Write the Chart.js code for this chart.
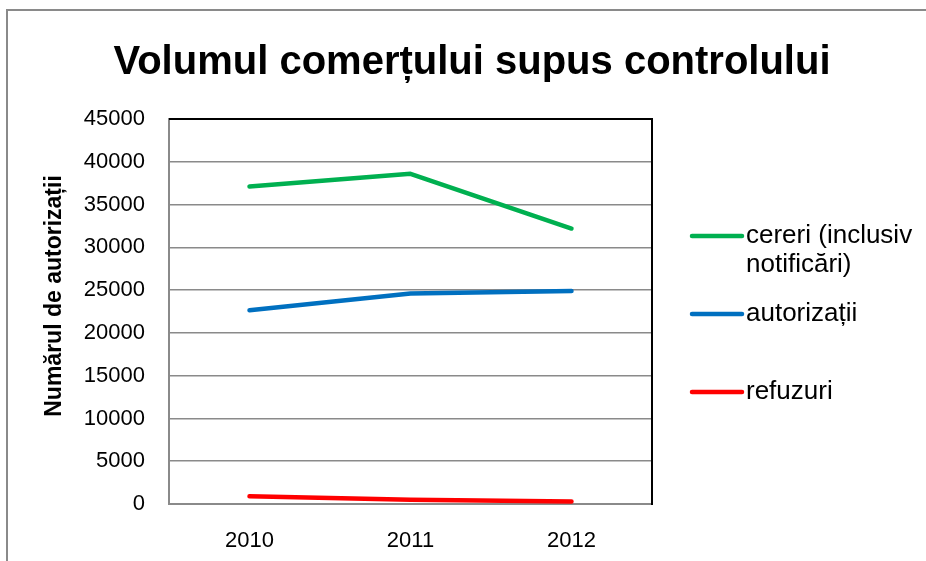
<!DOCTYPE html>
<html>
<head>
<meta charset="utf-8">
<script src="https://cdn.jsdelivr.net/npm/chart.js@4"></script>
<style>
  html, body { margin: 0; padding: 0; background: #fff; }
  #wrap { width: 926px; height: 561px; position: relative; }
</style>
</head>
<body>
<div id="wrap"><canvas id="c" width="926" height="561"></canvas></div>
<script>
const titleText = "Volumul comerțului supus controlului";
const yAxisTitle = "Numărul de autorizații";
const categories = ["2010", "2011", "2012"];
const cereri = [37100, 38600, 32200];
const autorizatii = [22650, 24600, 24900];
const refuzuri = [900, 500, 300];
const legendLines = [["cereri (inclusiv", "notificări)"], ["autorizații"], ["refuzuri"]];
const seriesColors = ["#00B050", "#0070C0", "#FF0000"];
const yMin = 0, yMax = 45000, yStep = 5000;

const FONT = "'Liberation Sans', Arial, sans-serif";

const framePlugin = {
  id: 'frame',
  beforeDraw(chart) {
    const ctx = chart.ctx;
    ctx.save();
    ctx.fillStyle = '#fff';
    ctx.fillRect(0, 0, chart.width, chart.height);
    ctx.strokeStyle = '#8a8a8a';
    ctx.lineWidth = 2;
    ctx.strokeRect(7, 10, 1200, 1200);
    ctx.restore();
  },
  afterDraw(chart) {
    const ctx = chart.ctx;
    const a = chart.chartArea;
    ctx.save();
    // top and right plot border
    ctx.strokeStyle = '#000';
    ctx.lineWidth = 2;
    ctx.beginPath();
    ctx.moveTo(a.left, a.top);
    ctx.lineTo(a.right, a.top);
    ctx.lineTo(a.right, a.bottom + 1);
    ctx.stroke();
    // chart title
    ctx.fillStyle = '#000';
    ctx.font = "bold 40px " + FONT;
    ctx.textAlign = 'center';
    ctx.textBaseline = 'alphabetic';
    ctx.fillText(titleText, 472, 74);
    // y axis title
    ctx.font = "bold 23px " + FONT;
    ctx.textBaseline = 'middle';
    ctx.translate(55, 296);
    ctx.rotate(-Math.PI / 2);
    ctx.fillText(yAxisTitle, 0, 0);
    ctx.restore();
    // legend
    const ys = [236, 314, 392];
    ctx.save();
    ctx.font = "26px " + FONT;
    ctx.textAlign = 'left';
    ctx.textBaseline = 'middle';
    chart.data.datasets.forEach((ds, i) => {
      const y = ys[i];
      ctx.strokeStyle = ds.borderColor;
      ctx.lineWidth = 4.5;
      ctx.lineCap = 'round';
      ctx.beginPath();
      ctx.moveTo(692, y);
      ctx.lineTo(742, y);
      ctx.stroke();
      ctx.fillStyle = '#000';
      legendLines[i].forEach((t, j) => ctx.fillText(t, 746, y + j * 29));
    });
    ctx.restore();
  }
};

const mk = (label, data, color) => ({
  label, data,
  borderColor: color,
  backgroundColor: color,
  borderWidth: 4.5,
  borderCapStyle: 'round',
  borderJoinStyle: 'round',
  pointRadius: 0,
  pointHoverRadius: 0,
  tension: 0,
  fill: false
});

new Chart(document.getElementById('c'), {
  type: 'line',
  data: {
    labels: categories,
    datasets: [
      mk(legendLines[0].join(' '), cereri, seriesColors[0]),
      mk(legendLines[1].join(' '), autorizatii, seriesColors[1]),
      mk(legendLines[2].join(' '), refuzuri, seriesColors[2])
    ]
  },
  options: {
    responsive: false,
    animation: false,
    devicePixelRatio: 1,
    layout: { padding: { left: 0, right: 274, top: 119, bottom: 0 } },
    plugins: {
      legend: { display: false },
      tooltip: { enabled: false },
      title: { display: false }
    },
    scales: {
      x: {
        type: 'category',
        offset: true,
        grid: { display: false, drawTicks: false },
        border: { display: true, color: '#8a8a8a', width: 2 },
        ticks: { color: '#000', font: { family: FONT, size: 22 }, padding: 24, maxRotation: 0 },
        afterFit(s) { s.height = 57; }
      },
      y: {
        min: yMin, max: yMax,
        grid: { color: '#8a8a8a', lineWidth: 1.5, drawTicks: false },
        border: { display: true, color: '#8a8a8a', width: 2 },
        ticks: {
          stepSize: yStep,
          color: '#000',
          font: { family: FONT, size: 22 },
          padding: 24,
          callback: v => String(v)
        },
        afterFit(s) { s.width = 169; }
      }
    }
  },
  plugins: [framePlugin]
});
</script>
</body>
</html>
